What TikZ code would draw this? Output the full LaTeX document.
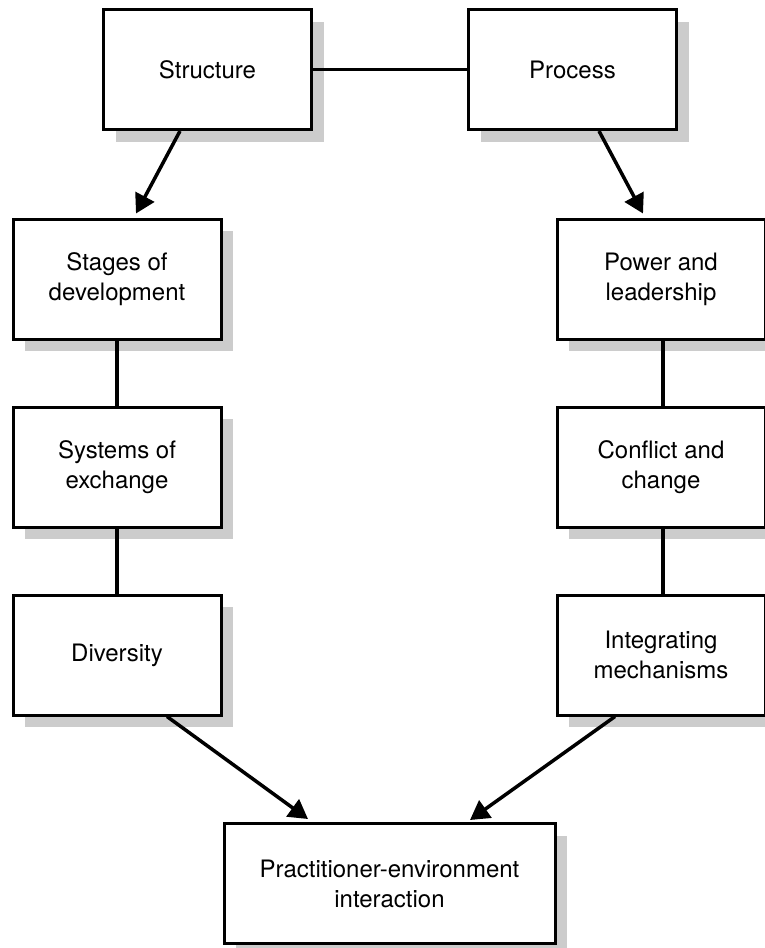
\documentclass[tikz,border=0pt]{standalone}
\usepackage{fontspec}
\setmainfont{TeX Gyre Heros}
\usetikzlibrary{arrows.meta,shadows}
\tikzset{
  boxnode/.style={draw=black, line width=3pt, fill=white, minimum width=208pt, minimum height=120pt,
    inner sep=0pt, align=center, font=\fontsize{24}{30}\selectfont,
    drop shadow={shadow xshift=12pt, shadow yshift=-12pt, fill=black!20, opacity=1}},
  conn/.style={line width=3.5pt},
  arr/.style={line width=3.5pt, -{Triangle[length=19pt,width=21pt]}}
}
\begin{document}
\begin{tikzpicture}[x=1pt,y=-1pt]
\useasboundingbox (0,0) rectangle (765,948);
\node[boxnode] (S) at (207.5,69.5) {Structure};
\node[boxnode] (P) at (572.5,69.5) {Process};
\node[boxnode] (St) at (117,279) {Stages of\\development};
\node[boxnode] (Sy) at (117,467) {Systems of\\exchange};
\node[boxnode] (D) at (117,655) {Diversity};
\node[boxnode] (Pw) at (661,279) {Power and\\leadership};
\node[boxnode] (C) at (661,467) {Conflict and\\change};
\node[boxnode] (I) at (661,655) {Integrating\\mechanisms};
\node[boxnode, minimum width=331pt] (Pr) at (389.5,883.5) {Practitioner-environment\\interaction};
\draw[conn] (S.east) -- (P.west);
\draw[conn] (St.south) -- (Sy.north);
\draw[conn] (Sy.south) -- (D.north);
\draw[conn] ([xshift=2pt]Pw.south) -- ([xshift=2pt]C.north);
\draw[conn] ([xshift=2pt]C.south) -- ([xshift=2pt]I.north);
\draw[arr] ([xshift=-27.5pt]S.south) -- ([xshift=19pt,yshift=4pt]St.north);
\draw[arr] ([xshift=26.5pt]P.south) -- ([xshift=-18pt,yshift=4pt]Pw.north);
\draw[arr] ([xshift=50pt]D.south) -- ([xshift=-81.5pt,yshift=3pt]Pr.north);
\draw[arr] ([xshift=-46pt]I.south) -- ([xshift=80.5pt,yshift=2pt]Pr.north);
\end{tikzpicture}
\end{document}
